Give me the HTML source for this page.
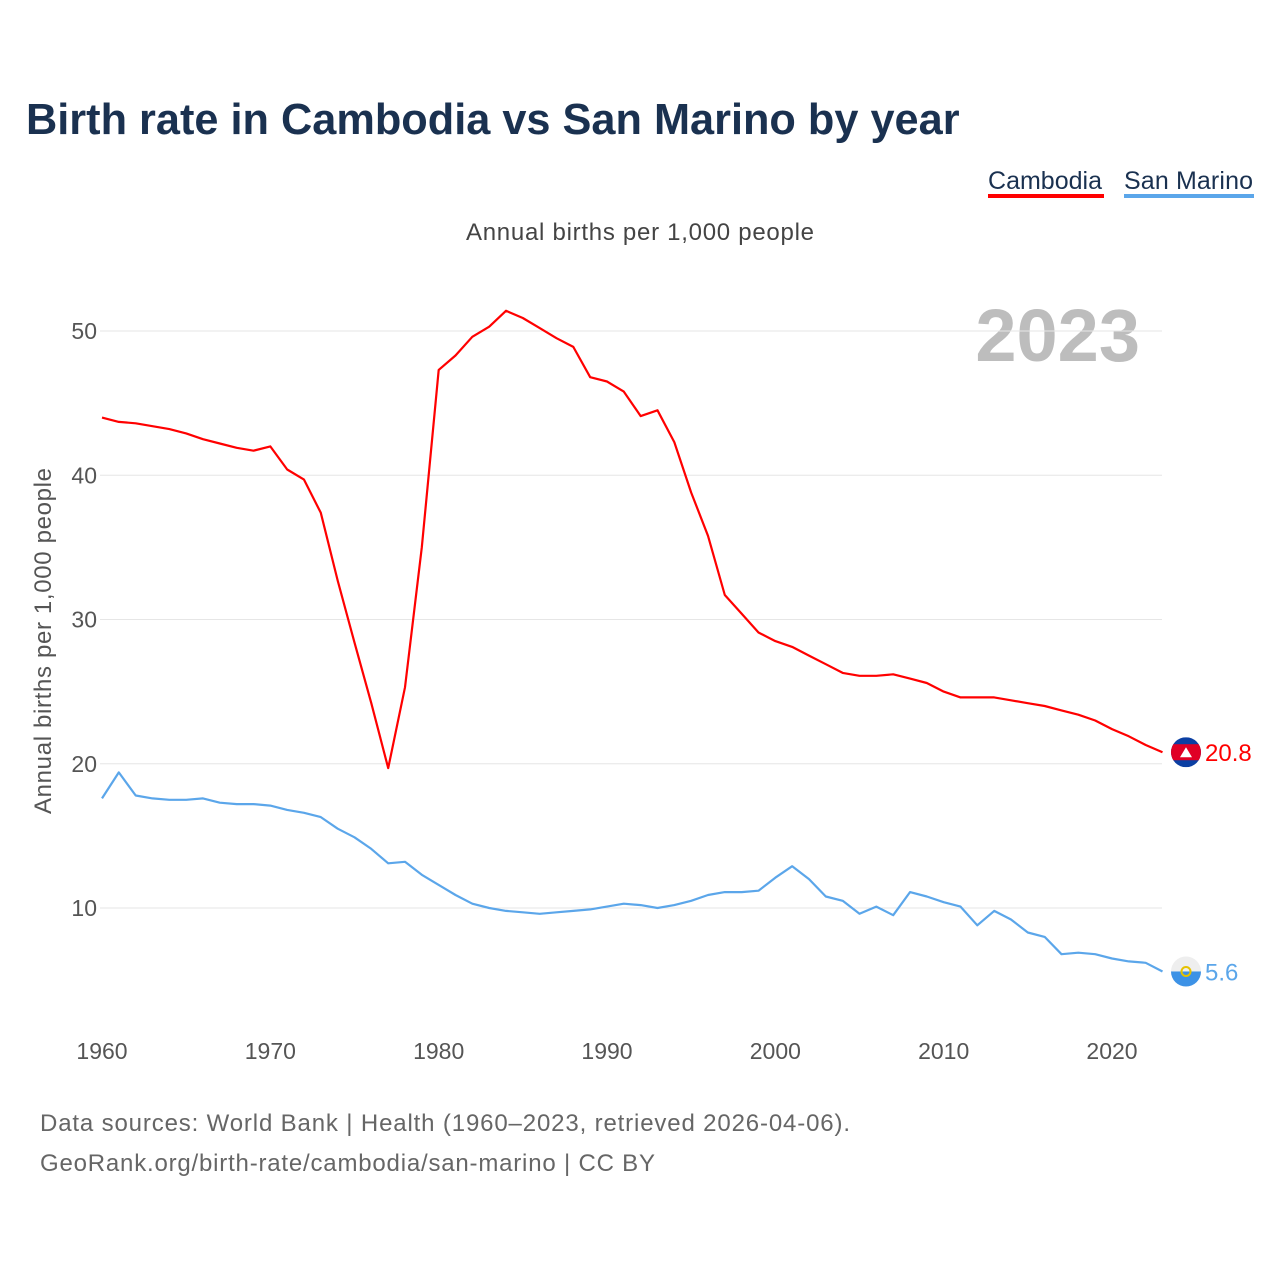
<!DOCTYPE html>
<html><head><meta charset="utf-8"><style>
body{margin:0;background:#fff;font-family:"Liberation Sans",sans-serif;}
svg{display:block}
</style></head><body>
<svg width="1280" height="1280" viewBox="0 0 1280 1280">
<text x="26" y="134" font-size="43.3" font-weight="bold" fill="#1a3150">Birth rate in Cambodia vs San Marino by year</text>
<g><text x="988" y="189" font-size="25" fill="#1a3150" textLength="114">Cambodia</text><rect x="988" y="194" width="116" height="4" fill="#ff0000"/></g>
<g><text x="1124" y="189" font-size="25" fill="#1a3150" textLength="129">San Marino</text><rect x="1124" y="194" width="130" height="4" fill="#5ba6ea"/></g>
<text x="640" y="240" font-size="24" fill="#444" text-anchor="middle" textLength="348">Annual births per 1,000 people</text>
<text x="1140" y="361" font-size="74" font-weight="bold" fill="#bdbdbd" text-anchor="end">2023</text>
<text transform="translate(51,641) rotate(-90)" font-size="24" fill="#555" text-anchor="middle" textLength="346">Annual births per 1,000 people</text>
<g id="grid"></g><g id="yt"></g><g id="xt"></g><g id="lines"></g><g id="ends"></g>
<text x="40" y="1131" font-size="24" fill="#666" textLength="810">Data sources: World Bank | Health (1960–2023, retrieved 2026-04-06).</text>
<text x="40" y="1171" font-size="24" fill="#666" textLength="615">GeoRank.org/birth-rate/cambodia/san-marino | CC BY</text>
</svg>
<script>
const years=[];for(let y=1960;y<=2023;y++)years.push(y);
const cambodia=[44.0,43.7,43.6,43.4,43.2,42.9,42.5,42.2,41.9,41.7,42.0,40.4,39.7,37.4,32.7,28.4,24.2,19.7,25.3,35.0,47.3,48.3,49.6,50.3,51.4,50.9,50.2,49.5,48.9,46.8,46.5,45.8,44.1,44.5,42.3,38.8,35.8,31.7,30.4,29.1,28.5,28.1,27.5,26.9,26.3,26.1,26.1,26.2,25.9,25.6,25.0,24.6,24.6,24.6,24.4,24.2,24.0,23.7,23.4,23.0,22.4,21.9,21.3,20.8];
const sanMarino=[17.6,19.4,17.8,17.6,17.5,17.5,17.6,17.3,17.2,17.2,17.1,16.8,16.6,16.3,15.5,14.9,14.1,13.1,13.2,12.3,11.6,10.9,10.3,10.0,9.8,9.7,9.6,9.7,9.8,9.9,10.1,10.3,10.2,10.0,10.2,10.5,10.9,11.1,11.1,11.2,12.1,12.9,12.0,10.8,10.5,9.6,10.1,9.5,11.1,10.8,10.4,10.1,8.8,9.8,9.2,8.3,8.0,6.8,6.9,6.8,6.5,6.3,6.2,5.6];
const yTicks=[10,20,30,40,50];
const xTicks=[1960,1970,1980,1990,2000,2010,2020];
const NS="http://www.w3.org/2000/svg";
const X=y=>102+(y-1960)*1010/60;
const Y=v=>908-(v-10)*577/40;
function mk(t,a,p){const e=document.createElementNS(NS,t);for(const k in a)e.setAttribute(k,a[k]);document.getElementById(p).appendChild(e);return e;}
yTicks.forEach(v=>{
 const l=mk('line',{x1:100,x2:1162,y1:Y(v),y2:Y(v),stroke:'#e6e6e6','stroke-width':1},'grid');
 
 
 const t=mk('text',{x:97,y:Y(v)+8,'font-size':23,fill:'#555','text-anchor':'end'},'yt');t.textContent=v;
 
 
});
xTicks.forEach(v=>{
 const t=mk('text',{x:X(v),y:1059,'font-size':23,fill:'#555','text-anchor':'middle'},'xt');t.textContent=v;
 
 
});
function line(d,c,name){
 const p=mk('path',{d:d.map((v,i)=>(i?'L':'M')+X(years[i]).toFixed(1)+','+Y(v).toFixed(1)).join(''),fill:'none',stroke:c,'stroke-width':2.2,'stroke-linejoin':'round'},'lines');
 
 
 const last=d[d.length-1],cy=Y(last);
 const g=mk('g',{},'ends');
 
 
 const cx=1186;
 if(name==='cambodia-line'){
  g.innerHTML=`<clipPath id="cc"><circle cx="${cx}" cy="${cy}" r="15"/></clipPath><g clip-path="url(#cc)"><rect x="${cx-15}" y="${cy-15}" width="30" height="30" fill="#0b3fa3"/><rect x="${cx-15}" y="${cy-8}" width="30" height="16" fill="#e00025"/><path d="M${cx-6} ${cy+5}L${cx} ${cy-5}L${cx+6} ${cy+5}Z" fill="#fff"/></g>`;
 } else {
  g.innerHTML=`<clipPath id="cs"><circle cx="${cx}" cy="${cy}" r="15"/></clipPath><g clip-path="url(#cs)"><rect x="${cx-15}" y="${cy-15}" width="30" height="30" fill="#eee"/><rect x="${cx-15}" y="${cy}" width="30" height="15" fill="#3d92e6"/><circle cx="${cx}" cy="${cy}" r="4.5" fill="none" stroke="#e6c200" stroke-width="2"/></g>`;
 }
 const t=mk('text',{x:1205,y:cy+9,'font-size':24,fill:c},'ends');t.textContent=last;
 
 
}
line(cambodia,'#ff0000','cambodia-line');
line(sanMarino,'#5ba6ea','san-marino-line');
</script>
</body></html>
